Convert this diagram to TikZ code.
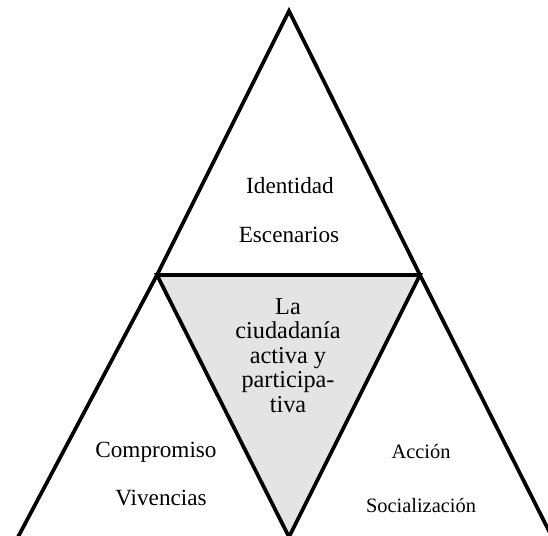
\documentclass[tikz,border=0pt]{standalone}
\usepackage{fontspec}
\setmainfont{Liberation Serif}

\tikzset{every picture/.style={line width=2.8pt}}
\tikzset{
  lbl/.style={inner sep=0pt, anchor=base, font=\fontsize{17.4}{20}\selectfont},
  lblsmall/.style={inner sep=0pt, anchor=base, font=\fontsize{15.3}{18}\selectfont},
  centro/.style={inner sep=0pt, anchor=base, align=center, font=\fontsize{18.2}{18.3}\selectfont}
}

\begin{document}
\begin{tikzpicture}[x=0.75pt,y=0.75pt,yscale=-1,xscale=1]
  \useasboundingbox (0,0) rectangle (548,535);
  \clip (0,0) rectangle (548,535);

  % corners of the triangles
  \coordinate (apex) at (289,11);
  \coordinate (midL) at (157,275);
  \coordinate (midR) at (420,275);
  \coordinate (tip) at (289,537);
  \coordinate (botL) at (18,537);
  \coordinate (botR) at (552,537);

  \draw  [fill={rgb, 255:red, 228; green, 228; blue, 228 }  ,line join=miter]  (midL) -- (midR) -- (tip) -- cycle   ;
  \draw  [line join=miter]  (botL) -- (midL) -- (apex) -- (midR) -- (botR) ;

  \node [lbl] (identidad) at (290,193) {Identidad};
  \node [lbl] (escenarios) at (289,242) {Escenarios};

  % base of a multi-line node is its last line
  \node [centro] (ciudadania) at (288,412) {La\\ ciudadanía\\ activa y\\ participa-\\ tiva};

  \node [lbl] (compromiso) at (156,457) {Compromiso};
  \node [lbl] (vivencias) at (161,505) {Vivencias};

  \node [lblsmall] (accion) at (421,458) {Acción};
  \node [lblsmall] (socializacion) at (421,512) {Socialización};

\end{tikzpicture}
\end{document}
